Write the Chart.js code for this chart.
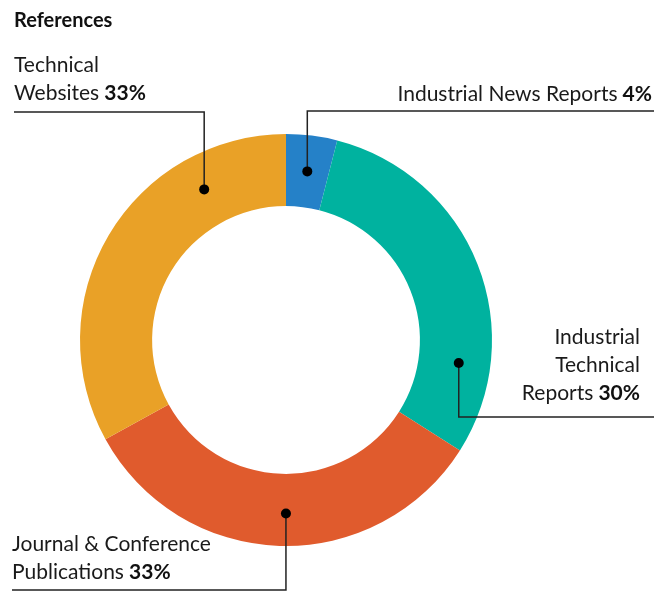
<!DOCTYPE html>
<html>
<head>
<meta charset="utf-8">
<script src="https://cdn.jsdelivr.net/npm/chart.js@4"></script>
<style>
  html, body { margin: 0; padding: 0; background: #fff; }
  #wrap { position: relative; width: 654px; height: 593px; }
</style>
</head>
<body>
<div id="wrap"><canvas id="chart" width="654" height="593"></canvas></div>
<script>
const categories = ['Industrial News Reports', 'Industrial Technical Reports', 'Journal & Conference Publications', 'Technical Websites'];
const shares = [4, 30, 33, 33];
const colours = ['#2581c8', '#00b29f', '#e05b2d', '#e9a127'];

// label placement for each slice: text lines, where the dot sits inside the slice, and where the leader goes
const callouts = [
  { lines: ['Industrial News Reports'], align: 'right', x: 652, y: 94, frac: 0.5, rf: 0.5, lineY: 111, lineTo: 654 },
  { lines: ['Industrial', 'Technical', 'Reports'], align: 'right', x: 640, y: 337, frac: 0.77, rf: 0.56, lineY: 417, lineTo: 654 },
  { lines: ['Journal & Conference', 'Publications'], align: 'left', x: 12, y: 544, frac: 0.485, rf: 0.55, lineY: 590, lineTo: 12 },
  { lines: ['Technical', 'Websites'], align: 'left', x: 14, y: 65, frac: 0.76, rf: 0.52, lineY: 112, lineTo: 14 }
];

const FONT = 'Lato, "Open Sans", sans-serif';

const calloutPlugin = {
  id: 'callouts',
  afterDraw(chart) {
    const c = chart.ctx;
    const arcs = chart.getDatasetMeta(0).data;
    c.save();
    // title
    c.fillStyle = '#111';
    c.font = 'bold 20px ' + FONT;
    c.textAlign = 'left';
    c.textBaseline = 'middle';
    c.fillText('References', 14, 21);

    arcs.forEach((arc, i) => {
      const o = callouts[i];
      const p = arc.getProps(['x', 'y', 'startAngle', 'endAngle', 'innerRadius', 'outerRadius'], true);
      const a = p.startAngle + (p.endAngle - p.startAngle) * o.frac;
      const r = p.innerRadius + (p.outerRadius - p.innerRadius) * o.rf;
      const dx = p.x + Math.cos(a) * r;
      const dy = p.y + Math.sin(a) * r;

      // leader
      c.strokeStyle = '#222';
      c.lineWidth = 1.5;
      c.beginPath();
      c.moveTo(dx, dy);
      c.lineTo(dx, o.lineY);
      c.lineTo(o.lineTo, o.lineY);
      c.stroke();
      c.fillStyle = '#000';
      c.beginPath();
      c.arc(dx, dy, 5, 0, Math.PI * 2);
      c.fill();

      // text
      const pct = ' ' + shares[i] + '%';
      const lh = 28;
      o.lines.forEach((t, j) => {
        const y = o.y + j * lh;
        const last = j === o.lines.length - 1;
        c.font = '21px ' + FONT;
        const w1 = c.measureText(t).width;
        c.font = 'bold 21px ' + FONT;
        const w2 = last ? c.measureText(pct).width : 0;
        let x = o.align === 'right' ? o.x - w1 - w2 : o.x;
        c.textAlign = 'left';
        c.fillStyle = '#1a1a1a';
        c.font = '21px ' + FONT;
        c.fillText(t, x, y);
        if (last) {
          c.font = 'bold 21px ' + FONT;
          c.fillStyle = '#111';
          c.fillText(pct, x + w1, y);
        }
      });
    });
    c.restore();
  }
};

const ctx = document.getElementById('chart').getContext('2d');
new Chart(ctx, {
  type: 'doughnut',
  data: {
    labels: categories,
    datasets: [{
      data: shares,
      backgroundColor: colours,
      borderWidth: 0
    }]
  },
  options: {
    responsive: false,
    animation: false,
    cutout: '65%',
    layout: { padding: { left: 80, right: 162, top: 134, bottom: 47 } },
    plugins: {
      legend: { display: false },
      tooltip: { enabled: false }
    }
  },
  plugins: [calloutPlugin]
});
</script>
</body>
</html>
